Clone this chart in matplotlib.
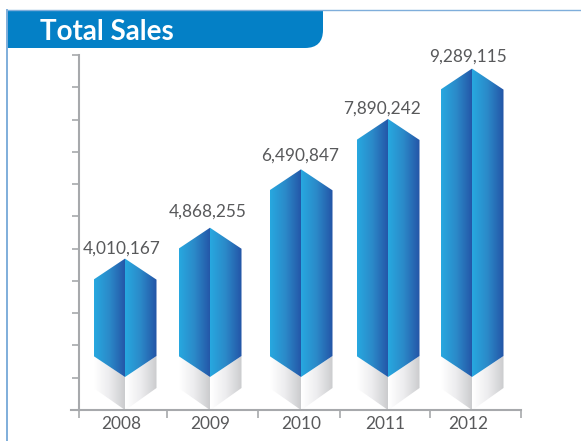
import numpy as np
import matplotlib
matplotlib.use("Agg")
import matplotlib.pyplot as plt
from matplotlib.patches import Polygon, PathPatch
from matplotlib.path import Path
from matplotlib.colors import LinearSegmentedColormap

years = ["2008", "2009", "2010", "2011", "2012"]
sales = [4010167, 4868255, 6490847, 7890242, 9289115]
labels = ["4,010,167", "4,868,255", "6,490,847", "7,890,242", "9,289,115"]
title = "Total Sales"

W, H = 581, 441
plt.rcParams["font.family"] = ["Lato", "Noto Sans", "DejaVu Sans"]
fig = plt.figure(figsize=(W / 100, H / 100), dpi=100)

# background layer in pixel coordinates
bg = fig.add_axes([0, 0, 1, 1], zorder=0)
bg.set_xlim(0, W); bg.set_ylim(H, 0); bg.axis("off")
frame = "#7FAEDB"
bg.plot([7, 7], [10, H], color=frame, lw=1.4)
bg.plot([7, W], [10, 10], color=frame, lw=1.0)
r = 18
verts = [(7, 10), (323, 10), (323, 48 - r), (323, 48), (323 - r, 48), (7, 48), (7, 10)]
codes = [Path.MOVETO, Path.LINETO, Path.LINETO, Path.CURVE3, Path.CURVE3, Path.LINETO, Path.CLOSEPOLY]
bg.add_patch(PathPatch(Path(verts, codes), fc="#0480C6", ec="none"))
bg.text(40, 31.5, title, color="white", fontsize=20, fontweight="bold", va="center", ha="left")

# chart axes
x0, x1, ybase, ytop = 79, 521, 410, 55
PX_PER_UNIT = 36 / 1e6
ax = fig.add_axes([x0 / W, 1 - ybase / H, (x1 - x0) / W, (ybase - ytop) / H], zorder=1)
ax.patch.set_alpha(0)
ylo = -(ybase - 403) / PX_PER_UNIT
yhi = (403 - ytop) / PX_PER_UNIT
ax.set_xlim(x0, x1); ax.set_ylim(ylo, yhi)

centers = [125, 210, 301, 388, 472]
half = 31.5
px = 1 / PX_PER_UNIT
blue = LinearSegmentedColormap.from_list("b", ["#27A8E0", "#2B88C8", "#2354A6"])
gray = LinearSegmentedColormap.from_list("g", ["#FFFFFF", "#ECECEE", "#CBCCCE"])
grad = np.linspace(0, 1, 128).reshape(1, -1)

def panel(poly, xa, xb, cmap):
    ys = [p[1] for p in poly]
    im = ax.imshow(grad, extent=[xa, xb, min(ys), max(ys)], aspect="auto", cmap=cmap,
                   vmin=0, vmax=1, interpolation="bilinear", zorder=2)
    patch = Polygon(poly, closed=True, transform=ax.transData, fc="none", ec="none")
    ax.add_patch(patch)
    im.set_clip_path(patch)

y_side_blue = ylo + (ybase - 356) * px
y_mid_blue = ylo + (ybase - 377) * px
y_side_gray = ylo + (ybase - 388) * px
y_mid_gray = ylo
label_dx = [-3.5, -2, -1, -6, -4.5]
label_dy = [2, 8, 6, 2, 4]
for c, v, lab, dx, dy in zip(centers, sales, labels, label_dx, label_dy):
    sh = v - 21 * px
    # gray reflection
    panel([(c - half, y_side_blue), (c, y_mid_blue), (c, y_mid_gray), (c - half, y_side_gray)], c - half, c - 0.5, gray)
    panel([(c + 0.5, y_mid_blue), (c + half, y_side_blue), (c + half, y_side_gray), (c + 0.5, y_mid_gray)], c + 0.5, c + half, gray)
    # blue body
    panel([(c - half, sh), (c, v), (c, y_mid_blue), (c - half, y_side_blue)], c - half, c, blue)
    panel([(c, v), (c + half, sh), (c + half, y_side_blue), (c, y_mid_blue)], c, c + half, blue)
    ax.annotate(lab, (c + dx, v), xytext=(0, dy), textcoords="offset pixels",
                ha="center", va="bottom", fontsize=12.4, color="#58595B", zorder=3, annotation_clip=False)

ax.set_xlim(x0, x1); ax.set_ylim(ylo, yhi)
for s in ("top", "right"):
    ax.spines[s].set_visible(False)
axcol = "#A7A9AC"
for s in ("left", "bottom"):
    ax.spines[s].set_color(axcol); ax.spines[s].set_linewidth(1.5)

yticks = [ylo + i * (yhi - ylo) / 11 for i in range(1, 12)]
ax.set_yticks(yticks); ax.set_yticklabels([])
ax.tick_params(axis="y", length=5, width=1.2, color=axcol)
xedges = [79, 167, 257.5, 340, 430, 521]
ax.set_xticks(xedges); ax.set_xticklabels([])
ax.tick_params(axis="x", length=6, width=1.2, color=axcol)
# axis line overshoot to the left
ax.plot([71, 79], [ylo, ylo], color=axcol, lw=1.5, clip_on=False, zorder=3)
for c, yr in zip([121, 210, 301, 385, 468], years):
    ax.annotate(yr, (c, ylo), xytext=(0, -6), textcoords="offset pixels", ha="center", va="top",
                fontsize=12.4, color="#58595B", annotation_clip=False)

fig.savefig("out.png", dpi=100)
